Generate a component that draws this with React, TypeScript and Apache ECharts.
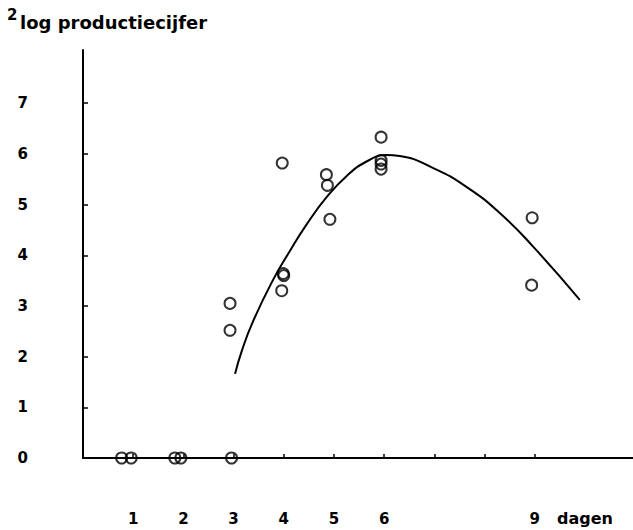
import React, { useEffect, useRef } from "react";
import * as echarts from "echarts";

const zeroDays = [0.77, 0.96, 1.83, 1.95, 2.96];
const zeroValues = [0, 0, 0, 0, 0];
const pointDays = [2.93, 2.93, 3.97, 3.99, 4.0, 3.96, 4.85, 4.87, 4.92, 5.94, 5.94, 5.94, 5.94, 8.95, 8.94];
const pointValues = [3.05, 2.52, 5.82, 3.64, 3.6, 3.3, 5.59, 5.38, 4.71, 6.33, 5.87, 5.8, 5.7, 4.74, 3.41];
const curveDays = [3.03, 3.16, 3.39, 3.79, 4.12, 4.45, 4.85, 5.25, 5.65, 6.05, 6.31, 6.98, 7.64, 8.31, 8.97, 9.9];
const curveValues = [1.66, 2.1, 2.7, 3.52, 4.08, 4.6, 5.14, 5.56, 5.85, 5.98, 5.96, 5.72, 5.35, 4.83, 4.17, 3.12];
const xTickValues = [1, 2, 3, 4, 5, 6, 7, 8, 9];
const xLabelValues = [1, 2, 3, 4, 5, 6, 9];
const yTickValues = [1, 2, 3, 4, 5, 6, 7];
const yLabelValues = [0, 1, 2, 3, 4, 5, 6, 7];
const titleSup = "2";
const titleText = "log productiecijfer";
const xName = "dagen";

const FONT = "DejaVu Sans";

export default function App() {
  const ref = useRef<HTMLDivElement>(null);
  useEffect(() => {
    if (!ref.current) return;
    const chart = echarts.init(ref.current, null, { renderer: "svg" });
    const pts = pointDays.map((d, i) => [d, pointValues[i]]);
    const zeros = zeroDays.map((d, i) => [d, zeroValues[i]]);
    const curve = curveDays.map((d, i) => [d, curveValues[i]]);
    chart.setOption({
      animation: false,
      backgroundColor: "#fff",
      grid: { left: 83, top: 50, width: 550, height: 408, containLabel: false },
      xAxis: {
        type: "value",
        min: 0,
        max: 10.96,
        axisLine: { show: true, onZero: false, lineStyle: { color: "#000", width: 2 } },
        axisTick: { show: true, inside: true, length: 4, customValues: xTickValues, lineStyle: { color: "#000", width: 1.5 } },
        axisLabel: {
          show: true,
          customValues: xLabelValues,
          margin: 53,
          color: "#000",
          fontFamily: FONT,
          fontWeight: "bold",
          fontSize: 15,
        },
        splitLine: { show: false },
      },
      yAxis: {
        type: "value",
        min: 0,
        max: 8.05,
        axisLine: { show: true, onZero: false, lineStyle: { color: "#000", width: 2 } },
        axisTick: { show: true, inside: true, length: 5, customValues: yTickValues, lineStyle: { color: "#000", width: 1.5 } },
        axisLabel: {
          show: true,
          customValues: yLabelValues,
          margin: 55,
          color: "#000",
          fontFamily: FONT,
          fontWeight: "bold",
          fontSize: 15,
        },
        splitLine: { show: false },
      },
      graphic: [
        {
          type: "text",
          left: 7,
          top: 7,
          style: { text: titleSup, fontFamily: FONT, fontWeight: "bold", fontSize: 15, fill: "#000" },
        },
        {
          type: "text",
          left: 20,
          top: 13,
          style: { text: titleText, fontFamily: FONT, fontWeight: "bold", fontSize: 18, fill: "#000" },
        },
        {
          type: "text",
          left: 557,
          top: 510,
          style: { text: xName, fontFamily: FONT, fontWeight: "bold", fontSize: 16, fill: "#000" },
        },
      ],
      series: [
        {
          type: "line",
          data: curve,
          smooth: 0.5,
          symbol: "none",
          lineStyle: { color: "#000", width: 2 },
          z: 2,
        },
        {
          type: "scatter",
          data: pts.concat(zeros),
          symbol: "circle",
          symbolSize: 11,
          itemStyle: { color: "rgba(255,255,255,0)", borderColor: "#000", borderWidth: 2 },
          z: 3,
        },
      ],
    });
    return () => chart.dispose();
  }, []);
  return (
    <div
      ref={ref}
      style={{ position: "fixed", left: 0, top: 0, width: 633, height: 530, background: "#fff" }}
    />
  );
}
